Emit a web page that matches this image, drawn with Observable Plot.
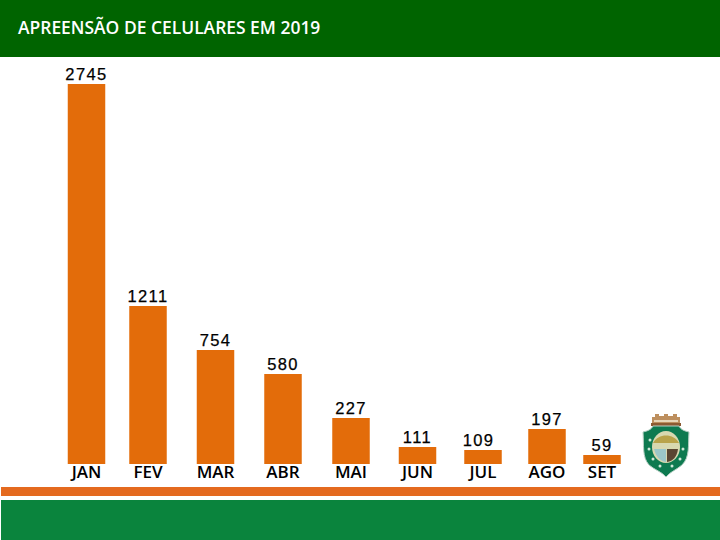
<!DOCTYPE html>
<html lang="pt">
<head>
<meta charset="utf-8">
<script src="https://cdn.jsdelivr.net/npm/d3@7"></script>
<script src="https://cdn.jsdelivr.net/npm/@observablehq/plot@0.6"></script>
<style>
html,body{margin:0;padding:0;background:#fff}
#page{position:relative;width:720px;height:540px;overflow:hidden}
#chart svg{display:block}
#chart{position:absolute;left:0;top:0}
#chart g[aria-label="text"]{letter-spacing:1.4px}
#head{position:absolute;left:0;top:0;width:720px;height:57px;background:#006400;color:#fff;font:600 17.45px "Open Sans",sans-serif;line-height:55px;padding-left:18px;box-sizing:border-box;white-space:nowrap}
#stripe{position:absolute;left:1px;top:487px;width:719px;height:9px;background:#E46A1F}
#foot{position:absolute;left:1px;top:500px;width:719px;height:40px;background:#0A843D}
#crest{position:absolute;left:640px;top:413px}
</style>
</head>
<body>
<div id="page">
  <div id="chart"></div>
  <div id="head">APREENSÃO DE CELULARES EM 2019</div>
  <div id="stripe"></div>
  <div id="foot"></div>
  <svg id="crest" width="52" height="66" viewBox="0 0 52 66" aria-hidden="true">
    <path d="M12 12 V4 H15 V1 H19 V3 H24 V1 H28 V3 H33 V1 H37 V4 H40 V12 Z" fill="#bd8f5e"/>
    <rect x="14" y="7" width="24" height="2" fill="#e8d6b8"/>
    <rect x="11" y="10" width="30" height="3" fill="#8c5a32"/>
    <path d="M13 13 L39 13 C41 17 45 18 49 19 C48 33 50 44 42 52 C36 57 30 59 26 64 C22 59 15 57 9 52 C2 44 4 33 3 19 C7 18 11 17 13 13 Z" fill="#0E7A50" stroke="#b6cfc4" stroke-width="1"/>
    <ellipse cx="26" cy="34" rx="14" ry="16" fill="#d8d8b0"/>
    <path d="M13 30 C18 20 34 20 39 30 Z" fill="#b9a34a"/>
    <path d="M14 36 L26 36 L26 49 C20 48 16 44 14 36 Z" fill="#9cc7c8"/>
    <path d="M27 36 L38 36 C37 44 33 48 27 49 Z" fill="#5a4632"/>
    <g fill="#cfe8d8"><circle cx="10" cy="27" r="1.5"/><circle cx="9" cy="36" r="1.5"/><circle cx="13" cy="46" r="1.5"/><circle cx="20" cy="53" r="1.5"/><circle cx="32" cy="53" r="1.5"/><circle cx="40" cy="46" r="1.5"/><circle cx="43" cy="36" r="1.5"/></g>
  </svg>
</div>
<script>
const months = ["JAN","FEV","MAR","ABR","MAI","JUN","JUL","AGO","SET"];
const values = [2745,1211,754,580,227,111,109,197,59];

// The reference's bars are not strictly proportional and not evenly spaced,
// so both position scales are piecewise, with knots read from the picture.
const xKnots = [86,147.5,215,282.5,350.5,417,482.5,546.5,601.5];
const yDomain = [0,59,109,111,197,227,580,754,1211,2745];
const yRange  = [464,455,450,447,429,418,374,350,306,84];

const rows = months.map((m,i)=>({i,month:m,value:values[i]}));
const valueLabel = {
  text:d=>String(d.value),x:"i",y:"value",dy:-9.5,
  fontSize:16.5,fontFamily:"Liberation Sans",fill:"#000",
  stroke:"#000",strokeWidth:0.25
};

const plot = Plot.plot({
  width:720, height:540,
  marginTop:0, marginRight:0, marginBottom:76, marginLeft:0,
  style:{background:"transparent",color:"#000"},
  x:{type:"linear",domain:months.map((_,i)=>i),range:xKnots,axis:null},
  y:{type:"linear",domain:yDomain,range:yRange,axis:null},
  marks:[
    Plot.ruleX(rows,{x:"i",y1:0,y2:"value",stroke:"#E36C0A",strokeWidth:37.5}),
    Plot.axisX(months.map((_,i)=>i),{
      anchor:"bottom",tickSize:0,tickPadding:1,label:null,
      tickFormat:i=>months[i],fontSize:17,fontFamily:"Open Sans",fontWeight:600,fill:"#000"
    }),
    Plot.text(rows.filter(d=>d.month!=="JUL"),valueLabel),
    Plot.text(rows.filter(d=>d.month==="JUL"),{...valueLabel,dx:-4.5})
  ]
});
document.getElementById("chart").appendChild(plot);
</script>
</body>
</html>
